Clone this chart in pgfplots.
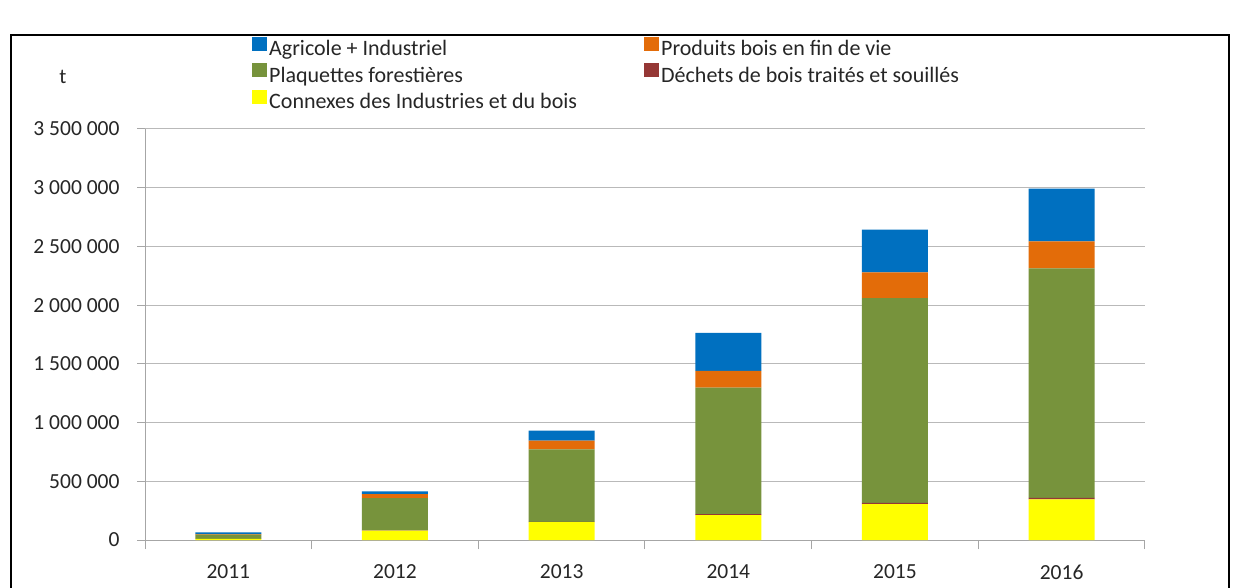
\documentclass[border=0pt]{standalone}
\usepackage{fontspec}
\setmainfont{Carlito}
\usepackage{pgfplots}
\pgfplotsset{compat=1.18}
\definecolor{cblue}{HTML}{0070C0}
\definecolor{corange}{HTML}{E36C09}
\definecolor{cgreen}{HTML}{77933C}
\definecolor{cbrown}{HTML}{953735}
\definecolor{cyellow}{HTML}{FFFF00}
\begin{document}
\begin{tikzpicture}[x=1pt,y=1pt]
\useasboundingbox (0pt,0pt) rectangle (1238pt,587pt);
\fill[white] (0pt,0pt) rectangle (1238pt,587pt);
\draw[black, line width=2pt] (11pt,-5pt) -- (11pt,552pt) -- (1229pt,552pt) -- (1229pt,-5pt);
\node[font=\fontsize{21}{24}\selectfont, text=black!85] at (63pt,510pt) {t};
\begin{axis}[
  at={(145pt,47pt)}, anchor=south west,
  width=1000pt, height=411pt, scale only axis,
  ybar stacked, bar width=66pt,
  xmin=-0.5, xmax=5.5, ymin=0, ymax=3500000,
  xtick={0,1,2,3,4,5}, xticklabels={2011,2012,2013,2014,2015,2016},
  minor xtick={-0.5,0.5,1.5,2.5,3.5,4.5,5.5},
  major x tick style={draw=none},
  minor x tick style={gray!70, line width=1pt},
  minor tick length=9pt,
  major tick length=8pt,
  tick align=outside,
  ytick={0,500000,...,3500000},
  ytick style={gray!70, line width=1pt},
  scaled y ticks=false,
  yticklabel={\pgfmathprintnumber[fixed, assume math mode=true, 1000 sep={\ }]{\tick}},
  yticklabel style={xshift=-14pt},
  xticklabel style={yshift=-13pt},
  tick label style={font=\fontsize{21.5}{24}\selectfont, text=black!85},
  axis x line*=bottom, axis y line*=left,
  axis line style={gray!70, line width=1pt, -},
  ymajorgrids, grid style={gray!55, line width=1pt},
  reverse legend,
  legend columns=2,
  legend cell align=left,
  legend style={at={(0.104,1.229)}, anchor=north west, draw=none, fill=none,
    font=\fontsize{22}{25}\selectfont, text=black!85,
    /tikz/every even column/.append style={column sep=0pt},
    row sep=4pt},
  legend image code/.code={\fill[#1] (0pt,-2pt) rectangle (15pt,12pt);},
]
\addplot[fill=cyellow, draw=none] coordinates {(0,10000) (1,80000) (2,152000) (3,212000) (4,305000) (5,347000)};
\addplot[fill=cbrown, draw=none] coordinates {(0,0) (1,3000) (2,3000) (3,8000) (4,12000) (5,12000)};
\addplot[fill=cgreen, draw=none] coordinates {(0,35000) (1,273000) (2,616000) (3,1077000) (4,1742000) (5,1955000)};
\addplot[fill=corange, draw=none] coordinates {(0,5000) (1,34000) (2,76000) (3,144000) (4,221000) (5,228000)};
\addplot[fill=cblue, draw=none] coordinates {(0,15000) (1,25000) (2,85000) (3,322000) (4,364000) (5,450000)};
\legend{\makebox[373pt][l]{Connexes des Industries et du bois},
        \makebox[373pt][l]{Déchets de bois traités et souillés},
        \makebox[373pt][l]{Plaquettes forestières},
        \makebox[373pt][l]{Produits bois en fin de vie},
        \makebox[373pt][l]{Agricole + Industriel}}
\end{axis}
\end{tikzpicture}
\end{document}
